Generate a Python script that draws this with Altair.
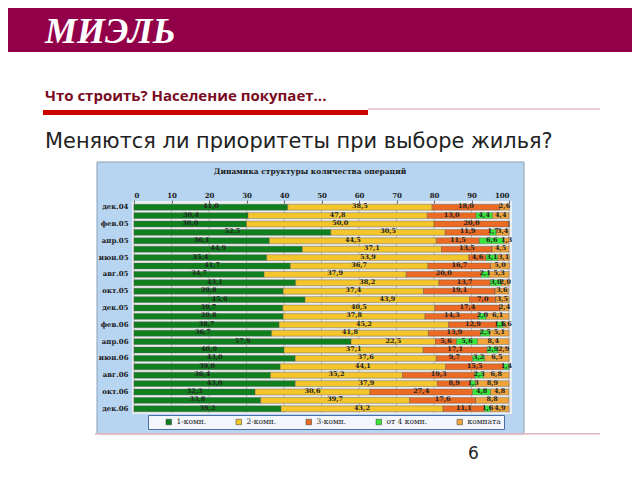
import altair as alt
import pandas as pd

months = ["дек.04", "янв.05", "фев.05", "мар.05", "апр.05", "май.05", "июн.05", "июл.05",
          "авг.05", "сен.05", "окт.05", "ноя.05", "дек.05", "янв.06", "фев.06", "мар.06",
          "апр.06", "май.06", "июн.06", "июл.06", "авг.06", "сен.06", "окт.06", "ноя.06", "дек.06"]
labeled_months = months[::2]

categories = ["1-комн.", "2-комн.", "3-комн.", "от 4 комн.", "комната"]
colors = ["#10801f", "#f5c62c", "#eb6a24", "#3be63b", "#f2a43a"]

one_room = [41.0, 30.4, 30.0, 52.5, 36.1, 44.9, 35.4, 41.7, 34.7, 43.1, 39.8, 45.6, 39.7,
            39.8, 38.7, 36.7, 57.9, 40.0, 43.0, 39.0, 36.4, 43.0, 32.3, 33.8, 39.2]
two_room = [38.5, 47.8, 50.0, 30.5, 44.5, 37.1, 53.9, 36.7, 37.9, 38.2, 37.4, 43.9, 40.5,
            37.8, 45.2, 41.8, 22.5, 37.1, 37.6, 44.1, 35.2, 37.9, 30.6, 39.7, 43.2]
three_room = [18.0, 13.0, 20.0, 11.9, 11.5, 13.5, 4.6, 16.7, 20.0, 13.7, 19.1, 7.0, 17.4,
              14.3, 12.9, 13.9, 5.6, 17.1, 9.7, 15.5, 19.3, 8.9, 27.4, 17.6, 11.1]
four_plus = [0.0, 4.4, 0.0, 1.7, 6.6, 0.0, 3.1, 0.0, 2.1, 3.0, 0.0, 0.0, 0.0,
             2.0, 1.6, 2.5, 5.6, 2.9, 3.2, 1.4, 2.3, 1.3, 4.8, 0.0, 1.6]
room = [2.6, 4.4, 0.0, 3.4, 1.3, 4.5, 3.1, 5.0, 5.3, 2.0, 3.6, 3.5, 2.4,
        6.1, 1.6, 5.1, 8.4, 2.9, 6.5, 0.0, 6.8, 8.9, 4.8, 8.8, 4.9]

x_ticks = list(range(0, 101, 10))

series = [one_room, two_room, three_room, four_plus, room]
rows = []
for i, m in enumerate(months):
    for j, c in enumerate(categories):
        rows.append({"month": m, "cat": c, "order": j, "value": series[j][i]})
df = pd.DataFrame(rows)
grid_df = pd.DataFrame({"tick": x_ticks})

W, H = 375, 210
dummy = pd.DataFrame({"d": [0]})


def rect(x1, x2, y1, y2, color, stroke=None, sw=0.0):
    kw = {"color": color}
    if stroke:
        kw.update(stroke=stroke, strokeWidth=sw)
    return alt.Chart(dummy).mark_rect(**kw).encode(
        x=alt.value(x1), x2=alt.value(x2), y=alt.value(y1), y2=alt.value(y2))


def label(txt, x, y, size, color, font="DejaVu Sans", weight="normal", style="normal", align="left"):
    return alt.Chart(dummy).mark_text(
        text=txt, fontSize=size, color=color, font=font, fontWeight=weight,
        fontStyle=style, align=align, baseline="alphabetic").encode(
        x=alt.value(x), y=alt.value(y))


header = rect(-126, 498, -195, -151, "#93004a")
logo = label("МИЭЛЬ", -89, -160, 36, "white", font="Liberation Serif", weight="bold", style="italic")
subtitle = label("Что строить? Население покупает...", -89, -102, 15, "#7a0a1e",
                 font="Open Sans", weight="bold")
red_line = rect(-91, 234, -93, -88, "#cc0000")
thin_line = rect(234, 466, -94.5, -93.5, "#d9a3ad")
heading = label("Меняются ли приоритеты при выборе жилья?", -89, -55, 20.9, "#222222",
                font="DejaVu Sans")
frame = rect(-37, 390, -41, 231, "#b7d5f1", stroke="#8aa0b8", sw=1)
plot_bg = rect(-2, 378, -2, 211, "#eceef0")
chart_title = label("Динамика структуры количества операций", 176, -29, 7.5, "#1a1a1a",
                    font="DejaVu Serif", weight="bold", align="center")
bottom_line = rect(-39, 466, 230, 231.5, "#e3b5bd")
page_no = label("6", 334, 256, 17, "#222222", font="DejaVu Sans")

xscale = alt.Scale(domain=[0, 100], nice=False)
x_axis = alt.Axis(orient="top", values=x_ticks, labelFont="DejaVu Serif",
                  labelFontSize=7, labelFontWeight="bold", labelColor="#1a1a1a",
                  tickSize=3, tickColor="#666", labelPadding=2, domain=False,
                  grid=False, zindex=1, title=None)

grid = alt.Chart(grid_df).mark_rule(color="#9a9a9a", strokeWidth=0.6).encode(
    x=alt.X("tick:Q", scale=xscale, axis=x_axis, title=None)
)

base = alt.Chart(df).transform_stack(
    stack="value", as_=["x0", "x1"], groupby=["month"],
    sort=[alt.SortField("order", order="ascending")]
).transform_calculate(
    mid="(datum.x0 + datum.x1) / 2",
    lbl="replace(format(datum.value, '.1f'), '.', ',')"
)

bars = base.mark_bar(stroke="#555555", strokeWidth=0.4).encode(
    x=alt.X("x0:Q", scale=xscale, title=None, axis=x_axis),
    x2="x1:Q",
    y=alt.Y("month:N", sort=months, title=None,
            scale=alt.Scale(paddingInner=0.3, paddingOuter=0.15),
            axis=alt.Axis(values=labeled_months, labelFont="DejaVu Serif", labelFontSize=7,
                          labelFontWeight="bold", labelColor="#1a1a1a", ticks=False,
                          domain=False, labelPadding=6, grid=False, zindex=1)),
    color=alt.Color("cat:N", sort=categories,
                    scale=alt.Scale(domain=categories, range=colors),
                    legend=alt.Legend(orient="none", legendX=14, legendY=212,
                                      direction="horizontal", title=None,
                                      fillColor="#f3f7fc", strokeColor="#4a6fa5",
                                      padding=3, symbolType="square", symbolSize=30,
                                      symbolStrokeColor="#333", symbolStrokeWidth=0.5,
                                      labelFont="DejaVu Serif", labelFontSize=7.5,
                                      labelColor="#1a1a1a", columnPadding=14,
                                      symbolOffset=14))
)

texts = base.transform_filter("datum.value > 0").mark_text(
    font="DejaVu Serif", fontSize=6.5, fontWeight="bold", color="#222222", dy=-1
).encode(
    x=alt.X("mid:Q", scale=xscale, title=None, axis=x_axis),
    y=alt.Y("month:N", sort=months),
    text="lbl:N"
)

chart = alt.layer(
    header, logo, subtitle, red_line, thin_line, heading, frame, plot_bg,
    chart_title, bottom_line, page_no, grid, bars, texts
).properties(
    width=W, height=H,
    padding={"left": 126, "top": 195, "right": 123, "bottom": 59},
    autosize=alt.AutoSizeParams(type="none"),
    background="white"
).configure_view(stroke=None)

chart.save("out.html", embed_options={"renderer": "svg", "actions": False})
